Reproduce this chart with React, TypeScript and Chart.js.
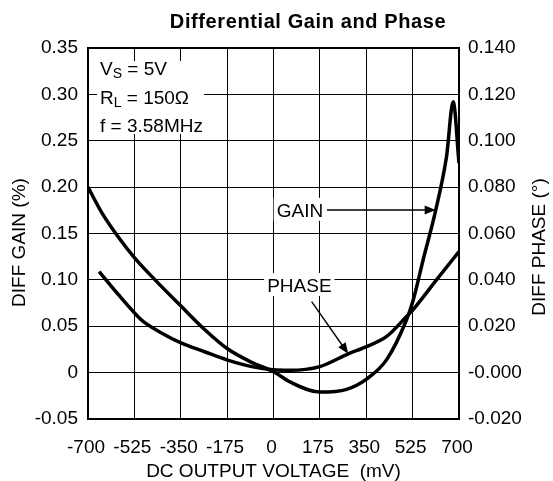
import React, { useEffect, useRef } from 'react';
import { Chart, registerables } from 'chart.js';

Chart.register(...registerables);

const FONT = '"Liberation Sans", Arial, Helvetica, sans-serif';

const chartTitle = 'Differential Gain and Phase';
const xAxisTitle = 'DC OUTPUT VOLTAGE  (mV)';
const leftAxisTitle = 'DIFF GAIN (%)';
const rightAxisTitle = 'DIFF PHASE (°)';

// X axis (mV)
const xMin = -700;
const xMax = 700;
const xStep = 175;
const xTickLabels = ['-700', '-525', '-350', '-175', '0', '175', '350', '525', '700'];

// Left axis: differential gain (%)
const gainMin = -0.05;
const gainMax = 0.35;
const gainStep = 0.05;
const gainTickLabels = ['-0.05', '0', '0.05', '0.10', '0.15', '0.20', '0.25', '0.30', '0.35'];

// Right axis: differential phase (°)
const phaseMin = -0.02;
const phaseMax = 0.14;
const phaseStep = 0.02;
const phaseTickLabels = ['-0.020', '-0.000', '0.020', '0.040', '0.060', '0.080', '0.100', '0.120', '0.140'];

// GAIN curve (left axis)
const gainX = [-700, -647, -585, -525, -447, -350, -258, -175, -82, 0, 62, 175, 276, 351, 427, 502, 527, 565, 612, 653, 678, 700];
const gainY = [0.200, 0.172, 0.146, 0.124, 0.100, 0.072, 0.046, 0.026, 0.011, 0.001, -0.010, -0.021, -0.018, -0.007, 0.014, 0.057, 0.078, 0.122, 0.175, 0.233, 0.292, 0.226];

// PHASE curve (right axis)
const phaseX = [-658, -585, -510, -491, -421, -349, -260, -173, -82, 0, 60, 175, 282, 351, 427, 502, 527, 615, 700];
const phaseY = [0.0436, 0.0336, 0.0240, 0.0220, 0.0170, 0.0128, 0.0090, 0.0054, 0.0026, 0.0012, 0.0010, 0.0026, 0.0081, 0.0112, 0.0156, 0.0242, 0.0272, 0.0400, 0.0522];

// Condition text lines: [text, isSubscript]
const conditionLines: [string, boolean][][] = [
  [['V', false], ['S', true], [' = 5V', false]],
  [['R', false], ['L', true], [' = 150Ω', false]],
  [['f = 3.58MHz', false]],
];

const font = (size: number, bold = false) => `${bold ? 'bold ' : ''}${size}px ${FONT}`;

function drawArrow(ctx: CanvasRenderingContext2D, x1: number, y1: number, x2: number, y2: number) {
  const headLen = 11;
  const headW = 4.5;
  const ang = Math.atan2(y2 - y1, x2 - x1);
  const c = Math.cos(ang);
  const s = Math.sin(ang);
  ctx.beginPath();
  ctx.moveTo(x1, y1);
  ctx.lineTo(x2 - headLen * 0.7 * c, y2 - headLen * 0.7 * s);
  ctx.lineWidth = 1.4;
  ctx.strokeStyle = '#000';
  ctx.stroke();
  ctx.beginPath();
  ctx.moveTo(x2, y2);
  ctx.lineTo(x2 - headLen * c + headW * s, y2 - headLen * s - headW * c);
  ctx.lineTo(x2 - headLen * c - headW * s, y2 - headLen * s + headW * c);
  ctx.closePath();
  ctx.fillStyle = '#000';
  ctx.fill();
}

function labelWithBox(ctx: CanvasRenderingContext2D, text: string, x: number, baseline: number) {
  ctx.font = font(19);
  const w = ctx.measureText(text).width;
  ctx.fillStyle = '#fff';
  ctx.fillRect(x - 3, baseline - 19, w + 6, 23);
  ctx.fillStyle = '#000';
  ctx.textAlign = 'left';
  ctx.textBaseline = 'alphabetic';
  ctx.fillText(text, x, baseline);
}

const annotationPlugin = {
  id: 'annotations',
  afterDatasetsDraw(chart: any) {
    const { ctx, chartArea, scales } = chart;
    const xs = scales.x;
    const ys = scales.y;
    ctx.save();

    // Conditions block
    const left = chartArea.left + 12;
    const baselines = [chartArea.top + 27, chartArea.top + 56, chartArea.top + 84];
    let maxRight = left;
    ctx.textAlign = 'left';
    ctx.textBaseline = 'alphabetic';
    conditionLines.forEach((parts) => {
      let cx = left;
      parts.forEach(([t, sub]) => {
        ctx.font = sub ? font(14) : font(19);
        cx += ctx.measureText(t).width;
      });
      maxRight = Math.max(maxRight, cx);
    });
    ctx.fillStyle = '#fff';
    ctx.fillRect(left - 3, baselines[0] - 14, maxRight - left + 4, baselines[2] - baselines[0] + 16);
    ctx.fillStyle = '#000';
    conditionLines.forEach((parts, i) => {
      let cx = left;
      parts.forEach(([t, sub]) => {
        ctx.font = sub ? font(14) : font(19);
        ctx.fillText(t, cx, sub ? baselines[i] + 3 : baselines[i]);
        cx += ctx.measureText(t).width;
      });
    });

    // GAIN label + arrow
    labelWithBox(ctx, 'GAIN', xs.getPixelForValue(12), ys.getPixelForValue(0.168));
    drawArrow(ctx, xs.getPixelForValue(202), ys.getPixelForValue(0.1754), xs.getPixelForValue(612), ys.getPixelForValue(0.1754));

    // PHASE label + arrow
    labelWithBox(ctx, 'PHASE', xs.getPixelForValue(-24), ys.getPixelForValue(0.087));
    drawArrow(ctx, xs.getPixelForValue(144), ys.getPixelForValue(0.0766), xs.getPixelForValue(282), ys.getPixelForValue(0.0203));

    ctx.restore();
  },
  afterDraw(chart: any) {
    const { ctx, chartArea } = chart;
    ctx.save();
    ctx.fillStyle = '#000';
    // Chart title
    ctx.font = font(20, true);
    (ctx as any).letterSpacing = '0.6px';
    ctx.textAlign = 'center';
    ctx.textBaseline = 'alphabetic';
    ctx.fillText(chartTitle, 308, 28);
    (ctx as any).letterSpacing = '0px';

    const midY = (chartArea.top + chartArea.bottom) / 2;
    ctx.font = font(19);
    // Left axis title
    ctx.save();
    ctx.translate(25, midY + 9);
    ctx.rotate(-Math.PI / 2);
    ctx.fillText(leftAxisTitle, 0, 0);
    ctx.restore();
    // Right axis title (reads bottom to top)
    ctx.save();
    ctx.translate(544.5, midY + 13.5);
    ctx.rotate(-Math.PI / 2);
    ctx.fillText(rightAxisTitle, 0, 0);
    ctx.restore();
    ctx.restore();
  },
};

const idx = (v: number, min: number, step: number) => Math.round((v - min) / step);

export default function App() {
  const canvasRef = useRef<HTMLCanvasElement | null>(null);

  useEffect(() => {
    const canvas = canvasRef.current;
    if (!canvas) return;
    const chart = new Chart(canvas, {
      type: 'line',
      data: {
        datasets: [
          {
            label: 'GAIN',
            data: gainX.map((x, i) => ({ x, y: gainY[i] })),
            yAxisID: 'y',
            borderColor: '#000',
            borderWidth: 3.5,
            pointRadius: 0,
            fill: false,
            cubicInterpolationMode: 'monotone',
          },
          {
            label: 'PHASE',
            data: phaseX.map((x, i) => ({ x, y: phaseY[i] })),
            yAxisID: 'y2',
            borderColor: '#000',
            borderWidth: 3.5,
            pointRadius: 0,
            fill: false,
            cubicInterpolationMode: 'monotone',
          },
        ],
      },
      options: {
        animation: false,
        responsive: false,
        devicePixelRatio: 1,
        layout: { padding: { top: 48, left: 0, right: 0, bottom: 0 } },
        plugins: {
          legend: { display: false },
          title: { display: false },
          tooltip: { enabled: false },
        },
        scales: {
          x: {
            type: 'linear',
            position: 'bottom',
            min: xMin,
            max: xMax,
            ticks: {
              stepSize: xStep,
              color: '#000',
              font: { family: FONT, size: 19 },
              padding: 17,
              labelOffset: -2,
              maxRotation: 0,
              autoSkip: false,
              callback: (v: any) => xTickLabels[idx(Number(v), xMin, xStep)],
            },
            grid: { color: '#000', lineWidth: 1, drawTicks: false },
            border: { color: '#000', width: 2 },
            title: {
              display: true,
              text: xAxisTitle,
              color: '#000',
              font: { family: FONT, size: 19, lineHeight: 1 },
              padding: { top: 0, bottom: 0 },
            },
            afterFit: (scale: any) => {
              scale.height = 62;
            },
          },
          y: {
            type: 'linear',
            position: 'left',
            min: gainMin,
            max: gainMax,
            ticks: {
              stepSize: gainStep,
              color: '#000',
              font: { family: FONT, size: 19 },
              padding: 10,
              autoSkip: false,
              callback: (v: any) => gainTickLabels[idx(Number(v), gainMin, gainStep)],
            },
            grid: {
              color: '#000',
              lineWidth: (c: any) => (c.tick && Math.abs(c.tick.value - gainMax) < 1e-9 ? 2 : 1),
              drawTicks: false,
            },
            border: { color: '#000', width: 2 },
            afterFit: (scale: any) => {
              scale.width = 88;
            },
          },
          y2: {
            type: 'linear',
            position: 'right',
            min: phaseMin,
            max: phaseMax,
            ticks: {
              stepSize: phaseStep,
              color: '#000',
              font: { family: FONT, size: 19 },
              padding: 9,
              autoSkip: false,
              callback: (v: any) => phaseTickLabels[idx(Number(v), phaseMin, phaseStep)],
            },
            grid: { display: false, drawTicks: false },
            border: { color: '#000', width: 2 },
            afterFit: (scale: any) => {
              scale.width = 94;
            },
          },
        },
      } as any,
      plugins: [annotationPlugin],
    });
    return () => chart.destroy();
  }, []);

  return (
    <div style={{ position: 'absolute', left: 0, top: 0, width: 553, height: 481, background: '#fff' }}>
      <canvas ref={canvasRef} width={553} height={481} style={{ width: 553, height: 481, display: 'block' }} />
    </div>
  );
}
